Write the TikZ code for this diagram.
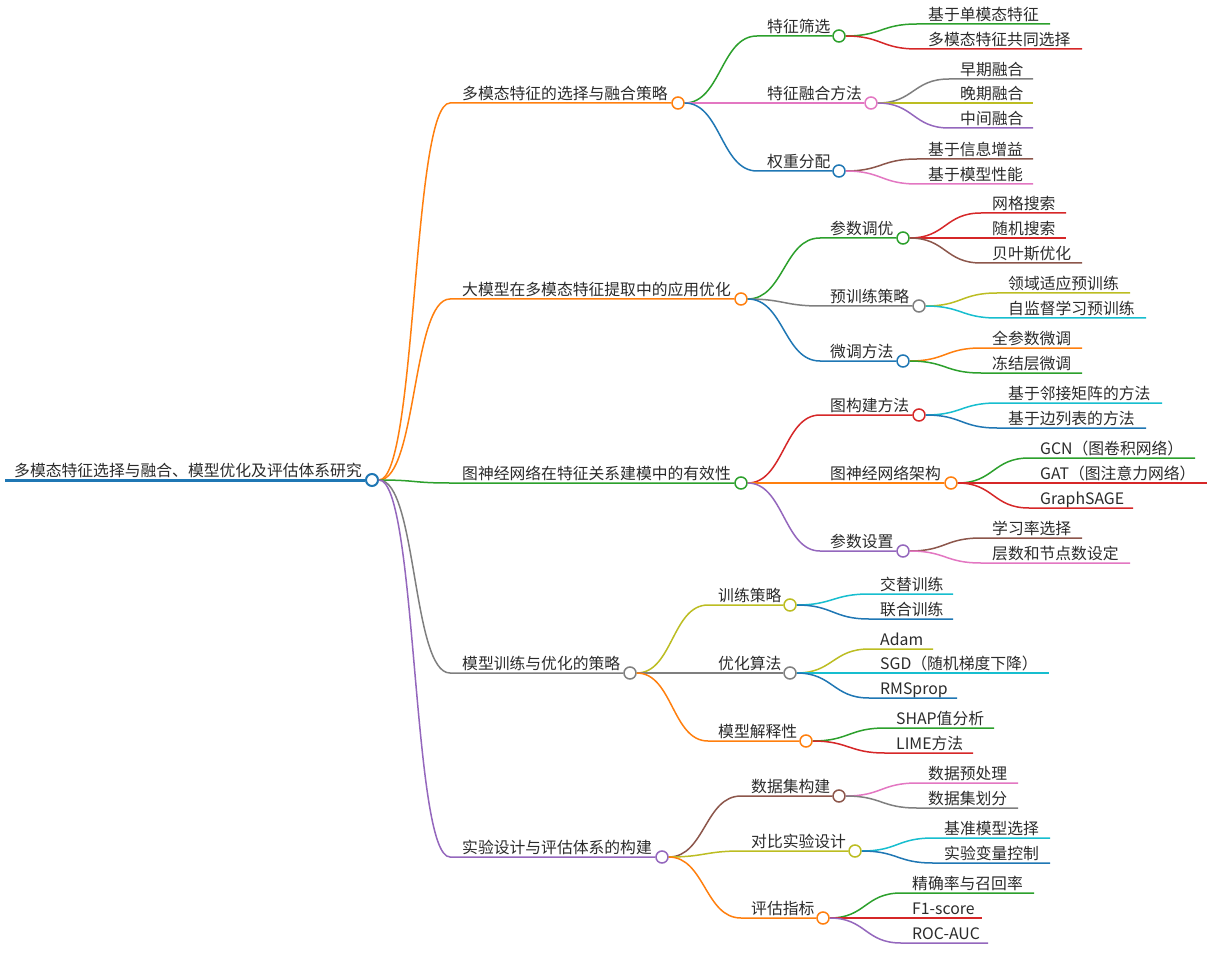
\documentclass[tikz,border=0pt]{standalone}
\usepackage{fontspec}
\setmainfont{Noto Sans CJK SC}
\usepackage{tikz}
\usetikzlibrary{positioning}
\definecolor{cBlue}{HTML}{1F77B4}
\definecolor{cOrange}{HTML}{FF7F0E}
\definecolor{cGreen}{HTML}{2CA02C}
\definecolor{cRed}{HTML}{D62728}
\definecolor{cPurple}{HTML}{9467BD}
\definecolor{cBrown}{HTML}{8C564B}
\definecolor{cPink}{HTML}{E377C2}
\definecolor{cGray}{HTML}{7F7F7F}
\definecolor{cOlive}{HTML}{BCBD22}
\definecolor{cCyan}{HTML}{17BECF}
\definecolor{textColor}{HTML}{2B2B2B}
\tikzset{
  lbl/.style={anchor=base west, inner sep=0pt, text=textColor, font=\fontsize{15.8}{18}\selectfont},
  dot/.style={circle, fill=white, minimum size=12pt, inner sep=0pt, line width=1.5pt},
  edge/.style={line width=1.5pt}
}

\begin{document}
\begin{tikzpicture}[x=1pt, y=-1pt]
          \useasboundingbox[fill=white] (0,0) rectangle (1212,973);
          % root
          \coordinate (r0) at (5,480);
          \node[dot, draw=cBlue, line width=2pt] (root) at (372,480) {};
          \node[lbl] (roott) at (14,476) {多模态特征选择与融合、模型优化及评估体系研究};
          \draw[cBlue, line width=3pt] (r0) -- (root.west);

          % first level
          \coordinate (b1s) at (450,103);
          \node[dot, draw=cOrange] (b1) at (678,103) {};
          \node[lbl] (b1t) at (462,99.5) {多模态特征的选择与融合策略};
          \draw[edge, cOrange] (root.east) .. controls +(38,0) and +(-38,0) .. (b1s) -- (b1.west);

          \coordinate (b2s) at (450,299);
          \node[dot, draw=cOrange] (b2) at (741,299) {};
          \node[lbl] (b2t) at (462,295.5) {大模型在多模态特征提取中的应用优化};
          \draw[edge, cOrange] (root.east) .. controls +(38,0) and +(-38,0) .. (b2s) -- (b2.west);

          \coordinate (b3s) at (450,483);
          \node[dot, draw=cGreen] (b3) at (741,483) {};
          \node[lbl] (b3t) at (462,479.5) {图神经网络在特征关系建模中的有效性};
          \draw[edge, cGreen] (root.east) .. controls +(38,0) and +(-38,0) .. (b3s) -- (b3.west);

          \coordinate (b4s) at (450,673);
          \node[dot, draw=cGray] (b4) at (630,673) {};
          \node[lbl] (b4t) at (462,669.5) {模型训练与优化的策略};
          \draw[edge, cGray] (root.east) .. controls +(38,0) and +(-38,0) .. (b4s) -- (b4.west);

          \coordinate (b5s) at (450,857);
          \node[dot, draw=cPurple] (b5) at (662,857) {};
          \node[lbl] (b5t) at (462,853.5) {实验设计与评估体系的构建};
          \draw[edge, cPurple] (root.east) .. controls +(38,0) and +(-38,0) .. (b5s) -- (b5.west);

          % second level, branch 1
          \coordinate (b1as) at (757,36);
          \node[dot, draw=cGreen] (b1a) at (839,36) {};
          \node[lbl] (b1at) at (767,32.5) {特征筛选};
          \draw[edge, cGreen] (b1.east) .. controls +(36,0) and +(-36,0) .. (b1as) -- (b1a.west);

          \coordinate (b1bs) at (757,103);
          \node[dot, draw=cPink] (b1b) at (871,103) {};
          \node[lbl] (b1bt) at (767,99.5) {特征融合方法};
          \draw[edge, cPink] (b1.east) .. controls +(36,0) and +(-36,0) .. (b1bs) -- (b1b.west);

          \coordinate (b1cs) at (757,171);
          \node[dot, draw=cBlue] (b1c) at (839,171) {};
          \node[lbl] (b1ct) at (767,167.5) {权重分配};
          \draw[edge, cBlue] (b1.east) .. controls +(36,0) and +(-36,0) .. (b1cs) -- (b1c.west);

          % second level, branch 2
          \coordinate (b2as) at (820,238);
          \node[dot, draw=cGreen] (b2a) at (903,238) {};
          \node[lbl] (b2at) at (830,234.5) {参数调优};
          \draw[edge, cGreen] (b2.east) .. controls +(36,0) and +(-36,0) .. (b2as) -- (b2a.west);

          \coordinate (b2bs) at (820,306);
          \node[dot, draw=cGray] (b2b) at (919,306) {};
          \node[lbl] (b2bt) at (830,302.5) {预训练策略};
          \draw[edge, cGray] (b2.east) .. controls +(36,0) and +(-36,0) .. (b2bs) -- (b2b.west);

          \coordinate (b2cs) at (820,361);
          \node[dot, draw=cBlue] (b2c) at (903,361) {};
          \node[lbl] (b2ct) at (830,357.5) {微调方法};
          \draw[edge, cBlue] (b2.east) .. controls +(36,0) and +(-36,0) .. (b2cs) -- (b2c.west);

          % second level, branch 3
          \coordinate (b3as) at (820,415);
          \node[dot, draw=cRed] (b3a) at (919,415) {};
          \node[lbl] (b3at) at (830,411.5) {图构建方法};
          \draw[edge, cRed] (b3.east) .. controls +(36,0) and +(-36,0) .. (b3as) -- (b3a.west);

          \coordinate (b3bs) at (820,483);
          \node[dot, draw=cOrange] (b3b) at (951,483) {};
          \node[lbl] (b3bt) at (830,479.5) {图神经网络架构};
          \draw[edge, cOrange] (b3.east) .. controls +(36,0) and +(-36,0) .. (b3bs) -- (b3b.west);

          \coordinate (b3cs) at (820,551);
          \node[dot, draw=cPurple] (b3c) at (903,551) {};
          \node[lbl] (b3ct) at (830,547.5) {参数设置};
          \draw[edge, cPurple] (b3.east) .. controls +(36,0) and +(-36,0) .. (b3cs) -- (b3c.west);

          % second level, branch 4
          \coordinate (b4as) at (708,605);
          \node[dot, draw=cOlive] (b4a) at (790,605) {};
          \node[lbl] (b4at) at (718,601.5) {训练策略};
          \draw[edge, cOlive] (b4.east) .. controls +(36,0) and +(-36,0) .. (b4as) -- (b4a.west);

          \coordinate (b4bs) at (708,673);
          \node[dot, draw=cGray] (b4b) at (790,673) {};
          \node[lbl] (b4bt) at (718,669.5) {优化算法};
          \draw[edge, cGray] (b4.east) .. controls +(36,0) and +(-36,0) .. (b4bs) -- (b4b.west);

          \coordinate (b4cs) at (708,741);
          \node[dot, draw=cOrange] (b4c) at (806,741) {};
          \node[lbl] (b4ct) at (718,737.5) {模型解释性};
          \draw[edge, cOrange] (b4.east) .. controls +(36,0) and +(-36,0) .. (b4cs) -- (b4c.west);

          % second level, branch 5
          \coordinate (b5as) at (741,796);
          \node[dot, draw=cBrown] (b5a) at (839,796) {};
          \node[lbl] (b5at) at (751,792.5) {数据集构建};
          \draw[edge, cBrown] (b5.east) .. controls +(36,0) and +(-36,0) .. (b5as) -- (b5a.west);

          \coordinate (b5bs) at (741,851);
          \node[dot, draw=cOlive] (b5b) at (855,851) {};
          \node[lbl] (b5bt) at (751,847.5) {对比实验设计};
          \draw[edge, cOlive] (b5.east) .. controls +(36,0) and +(-36,0) .. (b5bs) -- (b5b.west);

          \coordinate (b5cs) at (741,918);
          \node[dot, draw=cOrange] (b5c) at (823,918) {};
          \node[lbl] (b5ct) at (751,914.5) {评估指标};
          \draw[edge, cOrange] (b5.east) .. controls +(36,0) and +(-36,0) .. (b5cs) -- (b5c.west);

          % leaves of 特征筛选
          \coordinate (l1as) at (917,24); \coordinate (l1ae) at (1050,24);
          \node[lbl] (l1a) at (928,20.5) {基于单模态特征};
          \draw[edge, cGreen] (b1a.east) .. controls +(36,0) and +(-36,0) .. (l1as) -- (l1ae);
          \coordinate (l1bs) at (917,49); \coordinate (l1be) at (1082,49);
          \node[lbl] (l1b) at (928,45.5) {多模态特征共同选择};
          \draw[edge, cRed] (b1a.east) .. controls +(36,0) and +(-36,0) .. (l1bs) -- (l1be);

          % leaves of 特征融合方法
          \coordinate (l2as) at (949,79); \coordinate (l2ae) at (1033,79);
          \node[lbl] (l2a) at (960,75.5) {早期融合};
          \draw[edge, cGray] (b1b.east) .. controls +(36,0) and +(-36,0) .. (l2as) -- (l2ae);
          \coordinate (l2bs) at (949,103); \coordinate (l2be) at (1033,103);
          \node[lbl] (l2b) at (960,99.5) {晚期融合};
          \draw[edge, cOlive] (b1b.east) -- (l2bs) -- (l2be);
          \coordinate (l2cs) at (949,128); \coordinate (l2ce) at (1033,128);
          \node[lbl] (l2c) at (960,124.5) {中间融合};
          \draw[edge, cPurple] (b1b.east) .. controls +(36,0) and +(-36,0) .. (l2cs) -- (l2ce);

          % leaves of 权重分配
          \coordinate (l3as) at (917,159); \coordinate (l3ae) at (1033,159);
          \node[lbl] (l3a) at (928,155.5) {基于信息增益};
          \draw[edge, cBrown] (b1c.east) .. controls +(36,0) and +(-36,0) .. (l3as) -- (l3ae);
          \coordinate (l3bs) at (917,184); \coordinate (l3be) at (1033,184);
          \node[lbl] (l3b) at (928,180.5) {基于模型性能};
          \draw[edge, cPink] (b1c.east) .. controls +(36,0) and +(-36,0) .. (l3bs) -- (l3be);

          % leaves of 参数调优
          \coordinate (l4as) at (981,213); \coordinate (l4ae) at (1066,213);
          \node[lbl] (l4a) at (992,209.5) {网格搜索};
          \draw[edge, cRed] (b2a.east) .. controls +(36,0) and +(-36,0) .. (l4as) -- (l4ae);
          \coordinate (l4bs) at (981,238); \coordinate (l4be) at (1066,238);
          \node[lbl] (l4b) at (992,234.5) {随机搜索};
          \draw[edge, cRed] (b2a.east) -- (l4bs) -- (l4be);
          \coordinate (l4cs) at (981,263); \coordinate (l4ce) at (1082,263);
          \node[lbl] (l4c) at (992,259.5) {贝叶斯优化};
          \draw[edge, cBrown] (b2a.east) .. controls +(36,0) and +(-36,0) .. (l4cs) -- (l4ce);

          % leaves of 预训练策略
          \coordinate (l5as) at (997,293); \coordinate (l5ae) at (1130,293);
          \node[lbl] (l5a) at (1008,289.5) {领域适应预训练};
          \draw[edge, cOlive] (b2b.east) .. controls +(36,0) and +(-36,0) .. (l5as) -- (l5ae);
          \coordinate (l5bs) at (997,318); \coordinate (l5be) at (1146,318);
          \node[lbl] (l5b) at (1008,314.5) {自监督学习预训练};
          \draw[edge, cCyan] (b2b.east) .. controls +(36,0) and +(-36,0) .. (l5bs) -- (l5be);

          % leaves of 微调方法
          \coordinate (l6as) at (981,348); \coordinate (l6ae) at (1082,348);
          \node[lbl] (l6a) at (992,344.5) {全参数微调};
          \draw[edge, cOrange] (b2c.east) .. controls +(36,0) and +(-36,0) .. (l6as) -- (l6ae);
          \coordinate (l6bs) at (981,373); \coordinate (l6be) at (1082,373);
          \node[lbl] (l6b) at (992,369.5) {冻结层微调};
          \draw[edge, cGreen] (b2c.east) .. controls +(36,0) and +(-36,0) .. (l6bs) -- (l6be);

          % leaves of 图构建方法
          \coordinate (l7as) at (997,403); \coordinate (l7ae) at (1162,403);
          \node[lbl] (l7a) at (1008,399.5) {基于邻接矩阵的方法};
          \draw[edge, cCyan] (b3a.east) .. controls +(36,0) and +(-36,0) .. (l7as) -- (l7ae);
          \coordinate (l7bs) at (997,428); \coordinate (l7be) at (1146,428);
          \node[lbl] (l7b) at (1008,424.5) {基于边列表的方法};
          \draw[edge, cBlue] (b3a.east) .. controls +(36,0) and +(-36,0) .. (l7bs) -- (l7be);

          % leaves of 图神经网络架构
          \coordinate (l8as) at (1029,458); \coordinate (l8ae) at (1195,458);
          \node[lbl] (l8a) at (1040,454.5) {GCN（图卷积网络）};
          \draw[edge, cGreen] (b3b.east) .. controls +(36,0) and +(-36,0) .. (l8as) -- (l8ae);
          \coordinate (l8bs) at (1029,483); \coordinate (l8be) at (1207,483);
          \node[lbl] (l8b) at (1040,479.5) {GAT（图注意力网络）};
          \draw[edge, cRed] (b3b.east) -- (l8bs) -- (l8be);
          \coordinate (l8cs) at (1029,508); \coordinate (l8ce) at (1133,508);
          \node[lbl] (l8c) at (1040,504.5) {GraphSAGE};
          \draw[edge, cRed] (b3b.east) .. controls +(36,0) and +(-36,0) .. (l8cs) -- (l8ce);

          % leaves of 参数设置
          \coordinate (l9as) at (981,538); \coordinate (l9ae) at (1082,538);
          \node[lbl] (l9a) at (992,534.5) {学习率选择};
          \draw[edge, cBrown] (b3c.east) .. controls +(36,0) and +(-36,0) .. (l9as) -- (l9ae);
          \coordinate (l9bs) at (981,563); \coordinate (l9be) at (1130,563);
          \node[lbl] (l9b) at (992,559.5) {层数和节点数设定};
          \draw[edge, cPink] (b3c.east) .. controls +(36,0) and +(-36,0) .. (l9bs) -- (l9be);

          % leaves of 训练策略
          \coordinate (l10as) at (869,594); \coordinate (l10ae) at (953,594);
          \node[lbl] (l10a) at (880,590.5) {交替训练};
          \draw[edge, cCyan] (b4a.east) .. controls +(36,0) and +(-36,0) .. (l10as) -- (l10ae);
          \coordinate (l10bs) at (869,619); \coordinate (l10be) at (953,619);
          \node[lbl] (l10b) at (880,615.5) {联合训练};
          \draw[edge, cBlue] (b4a.east) .. controls +(36,0) and +(-36,0) .. (l10bs) -- (l10be);

          % leaves of 优化算法
          \coordinate (l11as) at (869,649); \coordinate (l11ae) at (933,649);
          \node[lbl] (l11a) at (880,645.5) {Adam};
          \draw[edge, cOlive] (b4b.east) .. controls +(36,0) and +(-36,0) .. (l11as) -- (l11ae);
          \coordinate (l11bs) at (869,673); \coordinate (l11be) at (1049,673);
          \node[lbl] (l11b) at (880,669.5) {SGD（随机梯度下降）};
          \draw[edge, cCyan] (b4b.east) -- (l11bs) -- (l11be);
          \coordinate (l11cs) at (869,698); \coordinate (l11ce) at (957,698);
          \node[lbl] (l11c) at (880,694.5) {RMSprop};
          \draw[edge, cBlue] (b4b.east) .. controls +(36,0) and +(-36,0) .. (l11cs) -- (l11ce);

          % leaves of 模型解释性
          \coordinate (l12as) at (885,728); \coordinate (l12ae) at (994,728);
          \node[lbl] (l12a) at (896,724.5) {SHAP值分析};
          \draw[edge, cGreen] (b4c.east) .. controls +(36,0) and +(-36,0) .. (l12as) -- (l12ae);
          \coordinate (l12bs) at (885,753); \coordinate (l12be) at (973,753);
          \node[lbl] (l12b) at (896,749.5) {LIME方法};
          \draw[edge, cRed] (b4c.east) .. controls +(36,0) and +(-36,0) .. (l12bs) -- (l12be);

          % leaves of 数据集构建
          \coordinate (l13as) at (917,783); \coordinate (l13ae) at (1018,783);
          \node[lbl] (l13a) at (928,779.5) {数据预处理};
          \draw[edge, cPink] (b5a.east) .. controls +(36,0) and +(-36,0) .. (l13as) -- (l13ae);
          \coordinate (l13bs) at (917,808); \coordinate (l13be) at (1018,808);
          \node[lbl] (l13b) at (928,804.5) {数据集划分};
          \draw[edge, cGray] (b5a.east) .. controls +(36,0) and +(-36,0) .. (l13bs) -- (l13be);

          % leaves of 对比实验设计
          \coordinate (l14as) at (933,838); \coordinate (l14ae) at (1050,838);
          \node[lbl] (l14a) at (944,834.5) {基准模型选择};
          \draw[edge, cCyan] (b5b.east) .. controls +(36,0) and +(-36,0) .. (l14as) -- (l14ae);
          \coordinate (l14bs) at (933,863); \coordinate (l14be) at (1050,863);
          \node[lbl] (l14b) at (944,859.5) {实验变量控制};
          \draw[edge, cBlue] (b5b.east) .. controls +(36,0) and +(-36,0) .. (l14bs) -- (l14be);

          % leaves of 评估指标
          \coordinate (l15as) at (901,893); \coordinate (l15ae) at (1034,893);
          \node[lbl] (l15a) at (912,889.5) {精确率与召回率};
          \draw[edge, cGreen] (b5c.east) .. controls +(36,0) and +(-36,0) .. (l15as) -- (l15ae);
          \coordinate (l15bs) at (901,918); \coordinate (l15be) at (982,918);
          \node[lbl] (l15b) at (912,914.5) {F1-score};
          \draw[edge, cRed] (b5c.east) -- (l15bs) -- (l15be);
          \coordinate (l15cs) at (901,943); \coordinate (l15ce) at (988,943);
          \node[lbl] (l15c) at (912,939.5) {ROC-AUC};
          \draw[edge, cPurple] (b5c.east) .. controls +(36,0) and +(-36,0) .. (l15cs) -- (l15ce);
        \end{tikzpicture}
\end{document}
